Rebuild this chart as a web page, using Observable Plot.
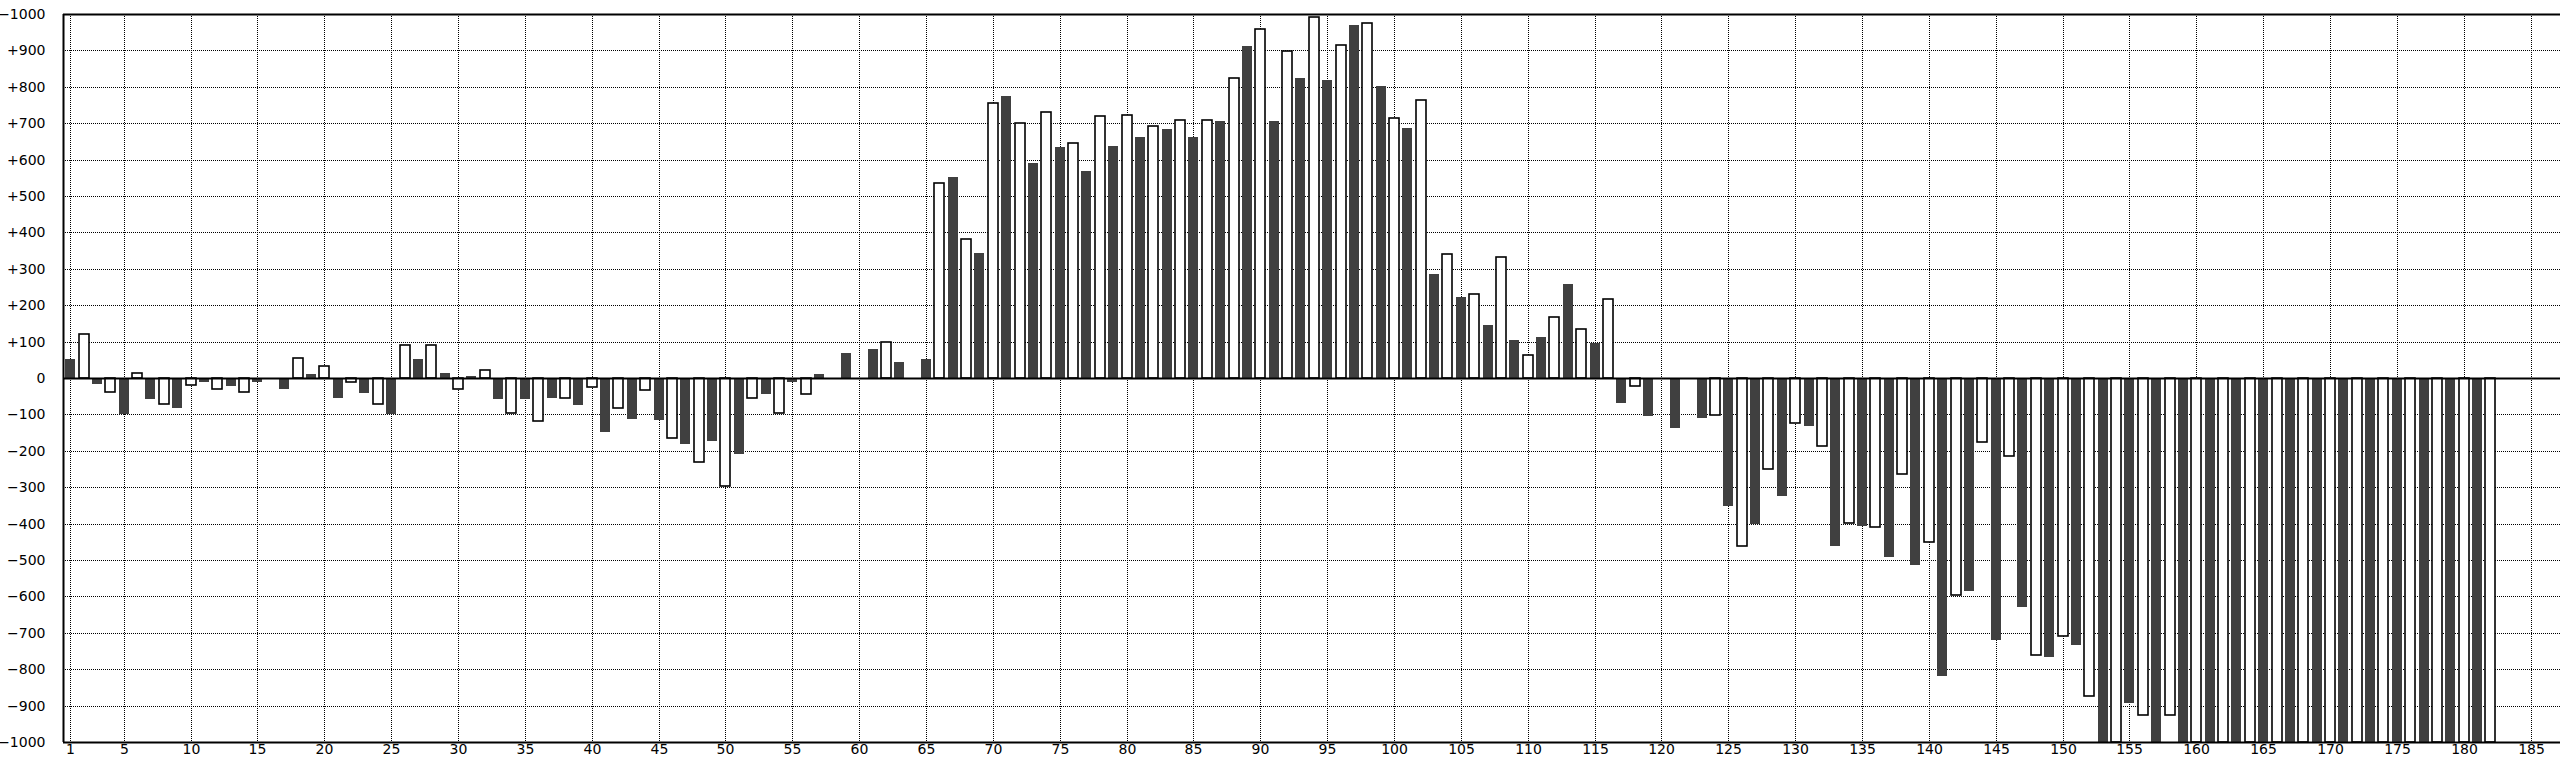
<!DOCTYPE html>
<html>
<head>
<meta charset="utf-8">
<script src="https://cdn.jsdelivr.net/npm/d3@7"></script>
<script src="https://cdn.jsdelivr.net/npm/@observablehq/plot@0.6"></script>
<style>
  html, body { margin: 0; padding: 0; background: #fff; }
  #chart svg { display: block; }
</style>
</head>
<body>
<div id="chart"></div>
<script>
// Bar index (1..182) and value; odd indices are drawn dark, even indices white.
const barIndex = d3.range(1, 183);
const barValues = [
  53, 121, -16, -38, -100, 14, -59, -72, -82, -20,
  -11, -30, -21, -39, -12, 0, -31, 56, 11, 34,
  -55, -10, -40, -72, -100, 90, 53, 90, 15, -30,
  6, 23, -59, -95, -59, -118, -54, -54, -73, -24,
  -148, -82, -114, -34, -115, -165, -180, -232, -174, -297,
  -209, -54, -44, -95, -11, -43, 11, 0, 68, 0,
  81, 98, 44, 0, 53, 536, 551, 383, 344, 755,
  774, 700, 592, 732, 634, 646, 570, 719, 638, 723,
  661, 692, 683, 710, 661, 710, 705, 824, 911, 960,
  705, 897, 824, 991, 820, 914, 970, 974, 802, 715,
  688, 763, 287, 341, 223, 232, 145, 332, 104, 64,
  112, 167, 259, 134, 96, 217, -68, -21, -104, 0,
  -137, 0, -109, -102, -352, -461, -402, -250, -325, -123,
  -132, -186, -461, -397, -407, -410, -492, -264, -515, -450,
  -820, -595, -585, -177, -720, -214, -629, -760, -766, -710,
  -734, -873, -1000, -1000, -893, -927, -1000, -927, -1000, -1000,
  -1000, -1000, -1000, -1000, -1000, -1000, -1000, -1000, -1000, -1000,
  -1000, -1000, -1000, -1000, -1000, -1000, -1000, -1000, -1000, -1000,
  -1000, -1000
];
const xTicks = [1, 5, 10, 15, 20, 25, 30, 35, 40, 45, 50, 55, 60, 65, 70, 75, 80, 85, 90,
  95, 100, 105, 110, 115, 120, 125, 130, 135, 140, 145, 150, 155, 160, 165, 170, 175, 180, 185];
const yTicks = [-1000, -900, -800, -700, -600, -500, -400, -300, -200, -100, 0,
  100, 200, 300, 400, 500, 600, 700, 800, 900, 1000];
const yTickLabels = ["\u22121000", "\u2212900", "\u2212800", "\u2212700", "\u2212600", "\u2212500",
  "\u2212400", "\u2212300", "\u2212200", "\u2212100", "0", "+100", "+200", "+300", "+400",
  "+500", "+600", "+700", "+800", "+900", "\u22121000"];

const bars = barIndex.map((i, k) => ({i, v: barValues[k]}));
const darkBars = bars.filter(d => d.i % 2 === 1);
const whiteBars = bars.filter(d => d.i % 2 === 0);
const half = 0.374;

const gridStyle = {stroke: "#000", strokeOpacity: 1, strokeWidth: 1, strokeDasharray: "1,1"};

const chart = Plot.plot({
  width: 2560,
  height: 759,
  marginLeft: 63,
  marginRight: 0,
  marginTop: 14,
  marginBottom: 17,
  style: {fontFamily: "DejaVu Sans", fontSize: "14px", color: "#000", background: "#fff"},
  x: {type: "linear", domain: [0.46, 187.2], round: true},
  y: {type: "linear", domain: [-1000, 1000], round: true},
  marks: [
    Plot.gridX(xTicks, gridStyle),
    Plot.gridY(yTicks, gridStyle),
    Plot.rectY(darkBars, {x1: d => d.i - half, x2: d => d.i + half, y1: 0, y2: "v", fill: "#404040"}),
    Plot.rectY(whiteBars, {x1: d => d.i - half, x2: d => d.i + half, y1: 0, y2: "v", fill: "#fff", stroke: "#000", strokeWidth: 1.6}),
    Plot.ruleY([0], {stroke: "#000", strokeWidth: 2}),
    Plot.ruleY([1000], {stroke: "#000", strokeWidth: 2}),
    Plot.ruleY([-1000], {stroke: "#000", strokeWidth: 2}),
    Plot.ruleX([0.46], {stroke: "#000", strokeWidth: 2}),
    Plot.axisX(xTicks, {tickSize: 0, tickPadding: 2, label: null, fontSize: 14}),
    Plot.axisY(yTicks, {tickSize: 0, tickPadding: 18, label: null, fontSize: 14,
      tickFormat: d => yTickLabels[yTicks.indexOf(d)]})
  ]
});
document.getElementById("chart").appendChild(chart);
</script>
</body>
</html>
